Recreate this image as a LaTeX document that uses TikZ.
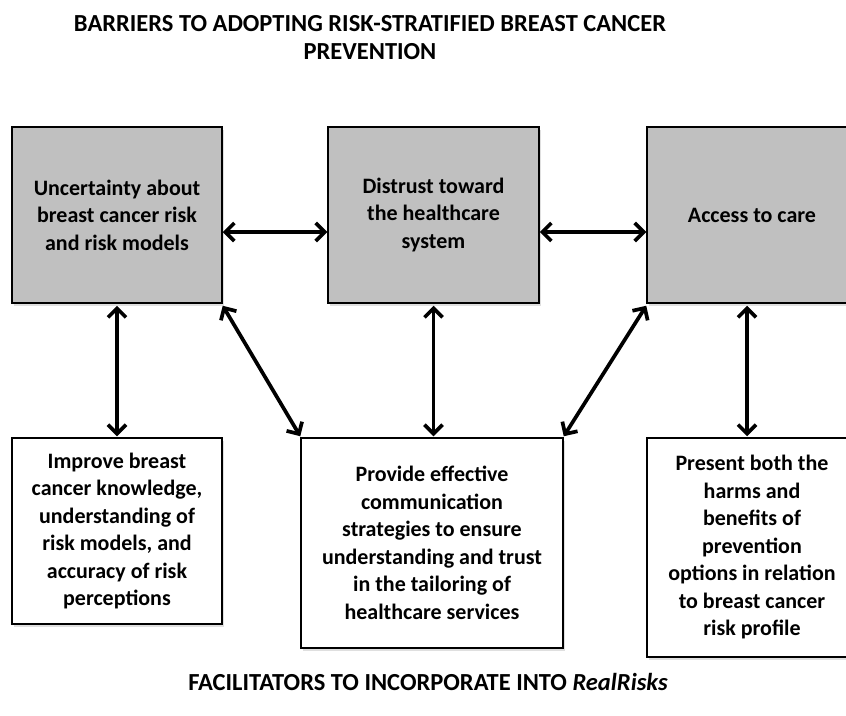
\documentclass[tikz,border=0pt]{standalone}
\usepackage{fontspec}
\setmainfont{Carlito}
\usetikzlibrary{arrows.meta,shadows}
\definecolor{boxgray}{RGB}{192,192,192}
\tikzset{
  box/.style={draw=black, line width=1.5pt, rectangle, align=center,
    font=\bfseries\fontsize{22}{27.5}\selectfont, inner sep=0pt,
    drop shadow={opacity=0.25, shadow xshift=2pt, shadow yshift=-3pt}},
  barrier/.style={box, fill=boxgray},
  facil/.style={box, fill=white},
  arr/.style={line width=3.7pt, {Straight Barb[length=9pt,width=18pt,line width=3.7pt]}-{Straight Barb[length=9pt,width=18pt,line width=3.7pt]}},
  heading/.style={font=\bfseries\fontsize{24.5}{28}\selectfont, align=center, inner sep=0pt}
}
\begin{document}
\begin{tikzpicture}[x=1pt,y=-1pt]
\useasboundingbox (0,0) rectangle (846,715);
\node[heading, anchor=base] (t1) at (370,31) {BARRIERS TO ADOPTING RISK-STRATIFIED BREAST CANCER};
\node[heading, anchor=base] (t2) at (370,59) {PREVENTION};

\node[barrier, minimum width=210pt, minimum height=176pt] (tl) at (117,215)
  {Uncertainty about\\breast cancer risk\\and risk models};
\node[barrier, minimum width=211pt, minimum height=176pt] (tm) at (433.5,215)
  {Distrust toward\\the healthcare\\system};
\node[barrier, minimum width=210pt, minimum height=176pt] (tr) at (752,215)
  {Access to care};

\node[facil, minimum width=210pt, minimum height=186pt] (bl) at (117,531)
  {Improve breast\\cancer knowledge,\\understanding of\\risk models, and\\accuracy of risk\\perceptions};
\node[facil, minimum width=262pt, minimum height=210pt] (bm) at (432,543)
  {Provide effective\\communication\\strategies to ensure\\understanding and trust\\in the tailoring of\\healthcare services};
\node[facil, minimum width=210pt, minimum height=219pt] (br) at (752,547.5)
  {Present both the\\harms and\\benefits of\\prevention\\options in relation\\to breast cancer\\risk profile};

\node[heading, anchor=base] (t3) at (428,690) {FACILITATORS TO INCORPORATE INTO \textit{RealRisks}};

\draw[arr] ([yshift=-17pt]tl.east) -- ([yshift=-17pt]tm.west);
\draw[arr] ([yshift=-17pt]tm.east) -- ([yshift=-17pt]tr.west);
\draw[arr] ([yshift=-2pt]tl.south) -- ([yshift=1pt]bl.north);
\draw[arr] ([yshift=-2pt]tl.south east) -- ([yshift=1pt]bm.north west);
\draw[arr] ([yshift=-2pt]tm.south) -- ([yshift=1pt]tm.south |- bm.north);
\draw[arr] ([yshift=-2pt]tr.south west) -- ([yshift=1pt]bm.north east);
\draw[arr] ([xshift=-5pt,yshift=-2pt]tr.south) -- ([xshift=-5pt,yshift=1pt]br.north);
\end{tikzpicture}
\end{document}
